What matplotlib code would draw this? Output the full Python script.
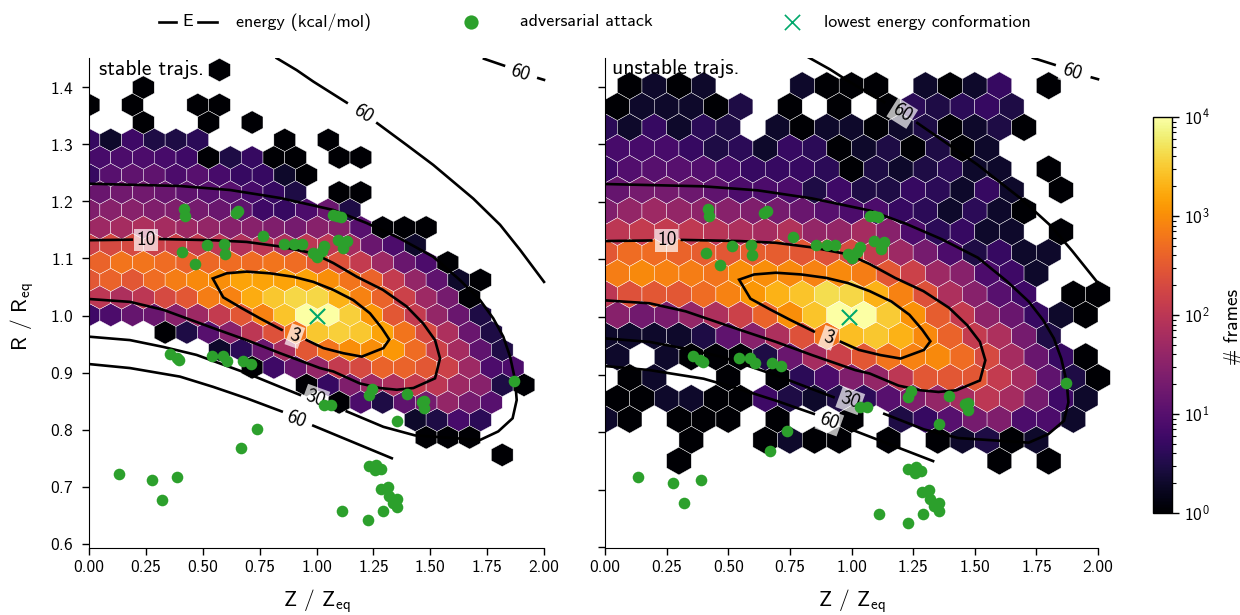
#!/usr/bin/env python3
"""Hexbin maps of stable / unstable trajectories with energy contours on top."""
import matplotlib
matplotlib.use("Agg")
import matplotlib.pyplot as plt
import numpy as np
from matplotlib.colors import LogNorm

plt.rcParams["font.family"] = ["cmss10", "DejaVu Sans"]
plt.rcParams["mathtext.fontset"] = "custom"
plt.rcParams["mathtext.rm"] = "cmss10"
plt.rcParams["mathtext.default"] = "rm"
plt.rcParams["axes.formatter.use_mathtext"] = True

# frames per hexagon, top row first; even rows start at Z=0, odd rows half a cell in
STABLE_COUNTS = [
    [0, 0, 0, 0, 0, 0, 1],
    [0, 0, 1],
    [1, 0, 1, 0, 0, 1, 1],
    [0, 0, 1, 0, 0, 1, 0, 1],
    [5, 2, 6, 3, 3, 4, 0, 0, 0, 1, 0, 1],
    [7, 8, 8, 7, 6, 1, 3, 5, 1, 1, 0, 1, 1],
    [5, 10, 12, 12, 8, 10, 7, 5, 5, 2, 1],
    [15, 18, 18, 15, 12, 10, 10, 7, 5, 3, 0, 1, 1],
    [25, 30, 30, 25, 25, 20, 15, 12, 6, 5, 8, 15, 3],
    [50, 60, 70, 60, 50, 40, 30, 30, 25, 20, 30, 30, 10, 1, 1, 1],
    [150, 200, 200, 150, 150, 120, 100, 80, 100, 70, 100, 100, 60, 15, 8, 2],
    [400, 600, 600, 500, 400, 450, 500, 500, 600, 500, 300, 250, 120, 50, 15, 8, 1],
    [300, 400, 300, 500, 700, 900, 1000, 1500, 1500, 1500, 1500, 1000, 600, 400, 120, 40, 12, 2, 1],
    [100, 70, 100, 200, 300, 700, 800, 1800, 3000, 4000, 4000, 2000, 800, 400, 150, 50, 20, 1],
    [6, 8, 14, 15, 30, 50, 120, 300, 800, 2800, 10000, 10000, 3500, 1200, 300, 120, 40, 15, 3],
    [0, 0, 0, 1, 3, 10, 30, 100, 250, 600, 3000, 3500, 3000, 1500, 600, 200, 70, 15, 3],
    [0, 0, 0, 0, 0, 0, 2, 4, 15, 60, 300, 600, 1000, 1000, 1200, 500, 150, 60, 12, 3],
    [0, 0, 0, 0, 0, 0, 0, 1, 6, 15, 40, 120, 200, 400, 400, 300, 150, 50, 8, 8],
    [0, 0, 0, 0, 0, 0, 0, 0, 0, 0, 1, 5, 25, 50, 70, 120, 100, 50, 30, 3, 1],
    [0, 0, 0, 0, 0, 0, 0, 0, 0, 0, 0, 1, 8, 3, 12, 20, 40, 20, 10],
    [0, 0, 0, 0, 0, 0, 0, 0, 0, 0, 0, 0, 0, 0, 0, 2, 3, 7, 4],
    [0, 0, 0, 0, 0, 0, 0, 0, 0, 0, 0, 0, 0, 0, 0, 1, 1, 1],
    [0, 0, 0, 0, 0, 0, 0, 0, 0, 0, 0, 0, 0, 0, 0, 0, 0, 0, 0, 1],
]
UNSTABLE_COUNTS = [
    [0, 1, 2, 1, 2, 0, 0, 0, 2, 1, 1, 1, 0, 2, 1, 2, 5, 0, 1],
    [1, 2, 2, 2, 1, 3, 0, 1, 0, 1, 0, 1, 4, 3, 4, 5, 3],
    [4, 2, 5, 2, 4, 3, 0, 2, 1, 2, 2, 1, 2, 3, 1, 2, 3, 1],
    [7, 7, 7, 5, 3, 4, 2, 5, 4, 1, 2, 3, 1, 3, 1, 2],
    [6, 9, 10, 10, 9, 7, 5, 5, 5, 4, 1, 3, 2, 3, 4, 2, 2, 0, 1],
    [14, 20, 20, 16, 12, 8, 8, 8, 3, 6, 3, 3, 5, 4, 2, 5, 2, 0, 1],
    [25, 40, 50, 40, 35, 30, 25, 20, 15, 10, 8, 8, 5, 4, 2, 4, 2, 1],
    [100, 120, 120, 110, 90, 70, 60, 80, 40, 40, 60, 30, 8, 4, 5, 2, 2, 0, 1],
    [300, 500, 500, 400, 350, 300, 350, 350, 300, 250, 200, 120, 50, 20, 8, 3, 5, 2, 2],
    [700, 900, 800, 700, 600, 1000, 1000, 900, 800, 900, 700, 300, 150, 50, 30, 8, 6, 2],
    [100, 250, 300, 300, 500, 800, 1200, 2000, 2800, 4500, 4000, 2000, 800, 250, 70, 30, 10, 6, 0, 1, 1],
    [30, 18, 22, 40, 70, 150, 400, 1000, 2800, 10000, 10000, 3200, 1100, 350, 120, 35, 15, 5, 2, 1],
    [2, 2, 2, 2, 3, 12, 30, 70, 250, 600, 2500, 3000, 2000, 900, 400, 120, 70, 20, 3],
    [2, 0, 2, 1, 1, 1, 3, 15, 60, 150, 300, 600, 800, 900, 500, 200, 60, 15, 5, 1],
    [0, 1, 2, 0, 0, 1, 0, 1, 4, 8, 25, 40, 100, 300, 300, 300, 120, 60, 12, 3, 1],
    [1, 1, 2, 2, 1, 1, 6, 3, 2, 3, 4, 10, 25, 40, 60, 100, 60, 20, 6, 2],
    [2, 1, 0, 1, 1, 1, 0, 1, 0, 0, 1, 0, 3, 5, 10, 20, 25, 8, 8, 2],
    [0, 0, 0, 1, 0, 0, 1, 2, 1, 1, 0, 1, 0, 1, 2, 3, 1, 2],
    [0, 0, 0, 1, 0, 0, 0, 0, 0, 0, 0, 0, 0, 0, 0, 0, 1, 0, 1],
]

# adversarial attacks
ATTACK_Z = [.419, .422, .646, .656, .764, .517, .593, .596, .410, .466, .858, .901, .935, .986, 1.004,
            1.074, 1.090, 1.108, 1.033, 1.023, 1.093, 1.133, 1.118, .356, .385, .397, .542, .590, .607,
            .678, .712, .740, .669, .132, .276, .388, .320, 1.243, 1.231, 1.396, 1.473, 1.462, 1.473,
            1.869, 1.034, 1.062, 1.353, 1.231, 1.262, 1.257, 1.282, 1.284, 1.316, 1.320, 1.353, 1.335,
            1.355, 1.291, 1.111, 1.228]
ATTACK_R = [1.187, 1.175, 1.180, 1.184, 1.139, 1.123, 1.125, 1.107, 1.111, 1.090, 1.125, 1.125, 1.125,
            1.110, 1.103, 1.176, 1.175, 1.173, 1.122, 1.113, 1.132, 1.130, 1.119, .932, .925, .922, .929,
            .929, .920, .920, .915, .802, .768, .722, .712, .717, .677, .871, .861, .863, .851, .849,
            .838, .886, .844, .844, .815, .736, .739, .730, .732, .696, .699, .684, .678, .672, .664,
            .658, .658, .642]

# energy contours, a None leaves the gap for the inline label
E3_Z = [.957, 1.030, 1.118, 1.199, 1.294, 1.320, 1.287, 1.235, 1.162, 1.074, .986, .898, .796, .693, .605,
        .544, .590, .671, .752, .847]
E3_R = [.957, .943, .934, .928, .943, .958, .978, 1.004, 1.027, 1.045, 1.059, 1.068, 1.074, 1.077, 1.074,
        1.065, 1.032, 1.013, .995, .975]
E10_Z = [0, .188, None, .312, .546, .693, .840, .986, 1.074, 1.177, 1.292, 1.396, 1.469, 1.521, 1.543, 1.521,
         1.426, 1.353, 1.279, 1.191, 1.074, 1.015, .840, .693, .546, .327, .180, 0]
E10_R = [1.132, 1.133, None, 1.134, 1.132, 1.129, 1.121, 1.109, 1.092, 1.068, 1.045, 1.016, .986, .957, .925,
         .890, .873, .870, .873, .881, .902, .908, .934, .957, .978, 1.010, 1.024, 1.029]
E30_Z = [0, .400, .620, .840, 1.074, 1.221, 1.367, 1.513, 1.631, 1.719, 1.777, 1.821, 1.851, 1.873, 1.880,
         1.862, 1.799, 1.719, 1.433, 1.294, 1.133, None, .927, .840, .693, .473, .327, .180, 0]
E30_R = [1.231, 1.227, 1.220, 1.206, 1.185, 1.162, 1.135, 1.103, 1.062, 1.027, .995, .963, .928, .887, .852,
         .820, .797, .782, .790, .805, .832, None, .861, .875, .899, .931, .945, .957, .963]
E60_LOW_Z = [0, .180, .400, .546, .693, .847, None, .986, 1.331]
E60_LOW_R = [.915, .908, .893, .875, .855, .832, None, .807, .750]
E60_MID_Z = [.825, .913, .986, 1.133, None, 1.267, 1.396, 1.513, 1.689, 1.807, 1.895, 2.0]
E60_MID_R = [1.451, 1.430, 1.410, 1.373, None, 1.337, 1.299, 1.264, 1.205, 1.159, 1.115, 1.059]
E60_TOP_Z = [1.736, 1.824, None, 1.975, 2.0]
E60_TOP_R = [1.450, 1.438, None, 1.416, 1.413]

LABEL_TEXT = ["3", "10", "30", "60", "60", "60"]
LABEL_Z = [.905, .25, .995, .91, 1.206, 1.895]
LABEL_R = [.964, 1.133, .855, .818, 1.354, 1.425]
LABEL_ROT = [-20, 0, -20, -20, -32, -18]

LOWEST_Z = [1.0, .99]
LOWEST_R = [1.0, 1.0]

Z_TICKS = [0, .25, .5, .75, 1.0, 1.25, 1.5, 1.75, 2.0]
R_TICKS = [.6, .7, .8, .9, 1.0, 1.1, 1.2, 1.3, 1.4]

GREEN = "#2ca02c"
X_GREEN = "#00a86b"
W, H = 1240, 615


def px_rect(left, top, right, bottom):
    return [left / W, 1 - bottom / H, (right - left) / W, (bottom - top) / H]


def hex_map(ax, rows, sx, y0, dy, norm):
    xs, ys, cs = [], [], []
    for k, row in enumerate(rows):
        for n, c in enumerate(row):
            if c:
                xs.append((n + 0.5 * (k % 2)) * sx)
                ys.append(y0 - k * dy)
                cs.append(c)
    ny = (len(rows) - 1) // 2
    ymin = y0 - ny * 2 * dy
    return ax.hexbin(xs, ys, C=cs, gridsize=(21, ny), extent=(0, 21 * sx, ymin, y0),
                     reduce_C_function=np.sum, norm=norm, cmap="inferno",
                     edgecolors="white", linewidths=0.3, zorder=1)


def to_line(vals):
    return [np.nan if v is None else v for v in vals]


def dress(ax, ylim, title, title_z):
    for z, r in [(E3_Z, E3_R), (E10_Z, E10_R), (E30_Z, E30_R), (E60_LOW_Z, E60_LOW_R),
                 (E60_MID_Z, E60_MID_R), (E60_TOP_Z, E60_TOP_R)]:
        ax.plot(to_line(z), to_line(r), color="black", lw=1.9, zorder=2, solid_joinstyle="miter")
    for t, z, r, rot in zip(LABEL_TEXT, LABEL_Z, LABEL_R, LABEL_ROT):
        ax.text(z, r, t, fontsize=14, ha="center", va="center", rotation=rot, zorder=3,
                rotation_mode="anchor", bbox=dict(fc="white", ec="none", alpha=0.7, pad=1.5))
    ax.scatter(ATTACK_Z, ATTACK_R, s=70, color=GREEN, linewidths=0, zorder=4)
    ax.set_xlim(0, 2.1)
    ax.set_ylim(*ylim)
    ax.set_xticks(Z_TICKS)
    ax.set_xticklabels([f"{z:.2f}" for z in Z_TICKS])
    ax.set_yticks(R_TICKS)
    ax.tick_params(labelsize=12.5, length=5, width=1)
    ax.tick_params(axis="y", pad=6)
    ax.spines["top"].set_visible(False)
    ax.spines["right"].set_visible(False)
    ax.spines["bottom"].set_bounds(0, 2)
    ax.set_xlabel(r"Z / Z$_{\mathrm{eq}}$", fontsize=15.5)
    ax.xaxis.set_label_coords(1.0 / 2.1, -0.082)
    ax.text(title_z, 1.432, title, fontsize=15.5, ha="left", va="center", zorder=5)


fig = plt.figure(figsize=(W / 100, H / 100), dpi=100, facecolor="white")
norm = LogNorm(vmin=1, vmax=1e4)

# the right panel is a bit wider and its y scale is slightly different
ax_l = fig.add_axes(px_rect(89, 58, 89 + 2.1 * 227.5, 548))
ax_r = fig.add_axes(px_rect(605, 58, 605 + 2.1 * 246.5, 548))

hb = hex_map(ax_l, STABLE_COUNTS, 0.0956, 1.4303, 0.03066, norm)
hex_map(ax_r, UNSTABLE_COUNTS, 0.1, 1.4017, 0.0362, norm)

dress(ax_l, (.5927, 1.4513), "stable trajs.", .045)
dress(ax_r, (.5991, 1.4498), "unstable trajs.", .03)
ax_r.set_yticklabels([])
ax_l.set_ylabel(r"R / R$_{\mathrm{eq}}$", fontsize=15.5)
ax_l.yaxis.set_label_coords(-0.109, 0.473)

for ax, z, r in zip((ax_l, ax_r), LOWEST_Z, LOWEST_R):
    ax.scatter([z], [r], marker="x", s=120, color=X_GREEN, linewidths=1.5, zorder=6)

cax = fig.add_axes(px_rect(1153, 117, 1172, 513))
cb = fig.colorbar(hb, cax=cax)
cb.ax.tick_params(labelsize=12.5, length=5, width=1)
cb.ax.tick_params(which="minor", length=3, width=0.8)
cb.outline.set_linewidth(1)
cb.set_label("# frames", fontsize=14)
cb.ax.yaxis.set_label_coords(3.75, 0.47)

# legend row, laid out in pixels above the panels
leg = fig.add_axes([0, 0, 1, 1], zorder=10)
leg.set_xlim(0, W)
leg.set_ylim(H, 0)
leg.axis("off")
leg.plot([159, 176], [22, 22], color="black", lw=1.9)
leg.plot([198, 217], [22, 22], color="black", lw=1.9)
leg.text(187.5, 22, "E", fontsize=13, ha="center", va="center")
leg.text(236, 22, "energy (kcal/mol)", fontsize=13, ha="left", va="center")
leg.scatter([471], [22], s=105, color=GREEN, linewidths=0)
leg.text(520, 22, "adversarial attack", fontsize=13, ha="left", va="center")
leg.scatter([792], [22], marker="x", s=120, color=X_GREEN, linewidths=1.2)
leg.text(824, 22, "lowest energy conformation", fontsize=13, ha="left", va="center")

fig.savefig("out.png", dpi=100, facecolor="white")
